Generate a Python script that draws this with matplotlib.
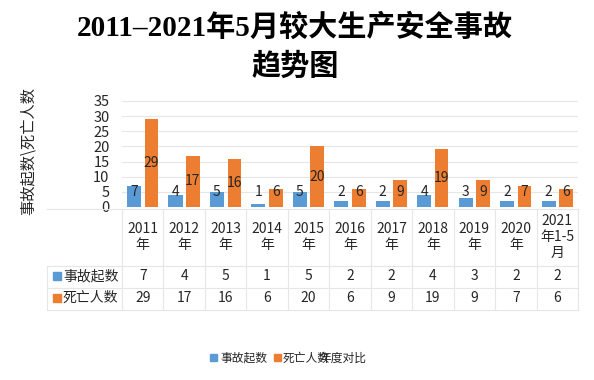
import matplotlib
matplotlib.use('Agg')
import matplotlib.pyplot as plt
from matplotlib.transforms import blended_transform_factory
from matplotlib.lines import Line2D
from matplotlib.patches import Rectangle

plt.rcParams['font.family'] = ['Noto Sans CJK SC', 'DejaVu Sans']

categories = ['2011\n年', '2012\n年', '2013\n年', '2014\n年', '2015\n年', '2016\n年',
              '2017\n年', '2018\n年', '2019\n年', '2020\n年', '2021\n年1-5\n月']
accidents = [7, 4, 5, 1, 5, 2, 2, 4, 3, 2, 2]
deaths = [29, 17, 16, 6, 20, 6, 9, 19, 9, 7, 6]
series_names = ['事故起数', '死亡人数']
yticks = [0, 5, 10, 15, 20, 25, 30, 35]

blue = '#5B9BD5'
orange = '#ED7D31'
grid_c = '#E6E6E6'
text_c = '#262626'

W, H = 594, 380
fig = plt.figure(figsize=(W / 100, H / 100), dpi=100)

def fx(px):
    return px / W

def fy(py):
    return 1 - py / H

# plot area
ax = fig.add_axes([fx(122), fy(207), fx(578) - fx(122), fy(101) - fy(207)])
x = list(range(len(categories)))
ax.bar([i - 0.21 for i in x], accidents, width=0.34, color=blue, zorder=3)
ax.bar([i + 0.21 for i in x], deaths, width=0.33, color=orange, zorder=3)

for i in x:
    ax.text(i - 0.21, max(accidents[i] / 2, 5), str(accidents[i]), ha='center', va='center',
            fontsize=10, color=text_c, zorder=4)
    ax.text(i + 0.21, max(deaths[i] / 2, 5), str(deaths[i]), ha='center', va='center',
            fontsize=10, color=text_c, zorder=4)

ax.set_xlim(-0.5, len(categories) - 0.5)
ax.set_ylim(0, 35)
ax.set_yticks(yticks)
ax.set_yticklabels([str(t) for t in yticks], fontsize=10.5, color=text_c)
ax.set_xticks([])
ax.tick_params(axis='y', length=0, pad=9)
for s in ax.spines.values():
    s.set_visible(False)
ax.grid(axis='y', color=grid_c, linewidth=0.8, zorder=0)

# data table under the plot
tr = blended_transform_factory(ax.transData, fig.transFigure)
row_lines = [209, 266, 288, 310]
for py in row_lines:
    fig.add_artist(Line2D([fx(47), fx(578)], [fy(py), fy(py)], color=grid_c, linewidth=0.8))
fig.add_artist(Line2D([fx(47), fx(47)], [fy(266), fy(310)], color=grid_c, linewidth=0.8))
for i in range(len(categories) + 1):
    fig.add_artist(Line2D([i - 0.5, i - 0.5], [fy(209), fy(310)], transform=tr,
                          color=grid_c, linewidth=0.8))

for i, lab in enumerate(categories):
    fig.text(i, fy(237), lab, transform=tr, ha='center', va='center', fontsize=10,
             color=text_c, linespacing=1.2)
    fig.text(i, fy(276), str(accidents[i]), transform=tr, ha='center', va='center',
             fontsize=10, color=text_c)
    fig.text(i, fy(298), str(deaths[i]), transform=tr, ha='center', va='center',
             fontsize=10, color=text_c)

for py, name, col in [(276, series_names[0], blue), (298, series_names[1], orange)]:
    fig.add_artist(Rectangle((fx(53), fy(py + 4)), fx(8), fy(py - 4) - fy(py + 4),
                             transform=fig.transFigure, color=col))
    fig.text(fx(63), fy(py), name, ha='left', va='center', fontsize=10, color=text_c)

# y axis title
fig.text(fx(28), fy(151), '事故起数\\死亡人数', rotation=90, ha='center', va='center',
         fontsize=11, color=text_c)

# title
title_font = ['Liberation Serif', 'Noto Sans CJK SC']
fig.text(0.497, fy(27), '2011–2021年5月较大生产安全事故', ha='center', va='center',
         fontsize=21, fontweight='bold', family=title_font, color='black')
fig.text(0.497, fy(67), '趋势图', ha='center', va='center',
         fontsize=21, fontweight='bold', family=title_font, color='black')

# legend
fig.add_artist(Rectangle((fx(210), fy(361)), fx(7), fy(354) - fy(361),
                         transform=fig.transFigure, color=blue))
fig.text(fx(220), fy(358), '事故起数', ha='left', va='center', fontsize=8.5, color=text_c)
fig.add_artist(Rectangle((fx(274), fy(361)), fx(7), fy(354) - fy(361),
                         transform=fig.transFigure, color=orange))
fig.text(fx(283), fy(358), '死亡人数', ha='left', va='center', fontsize=8.5, color=text_c)
fig.text(fx(319), fy(358), '年度对比', ha='left', va='center', fontsize=8.5, color=text_c)

fig.savefig('out.png', dpi=100, facecolor='white')
